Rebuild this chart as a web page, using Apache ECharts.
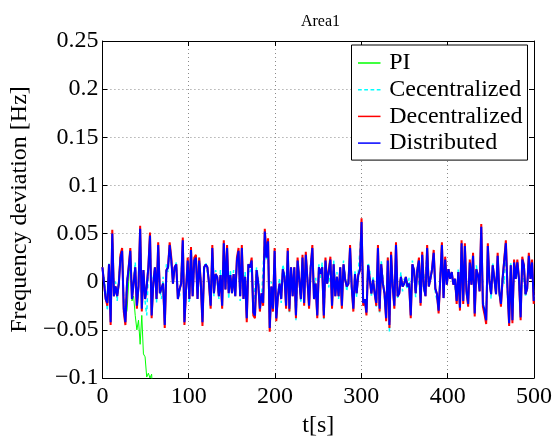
<!DOCTYPE html>
<html><head><meta charset="utf-8">
<script src="https://cdn.jsdelivr.net/npm/echarts@6/dist/echarts.min.js"></script>
<style>html,body{margin:0;padding:0;background:#fff}#c{width:555px;height:443px}</style>
</head><body><div id="c"></div>
<script>
const titleText = 'Area1';
const xName = 't[s]';
const yName = 'Frequency deviation [Hz]';
const seriesNames = ['PI', 'Cecentralized', 'Decentralized', 'Distributed'];
const dt = 1.9; // sampling step of the read-off data, seconds
const xTickLabels = ['0', '100', '200', '300', '400', '500'];
const yTickLabels = ['\u22120.1', '\u22120.05', '0', '0.05', '0.1', '0.15', '0.2', '0.25'];

const piValues = [
0.015,-0.002,-0.018,-0.024,0.018,-0.04,0.045,-0.015,-0.005,-0.015,
-0.002,0.028,0.035,-0.025,-0.035,-0.03,0.0,0.025,-0.02,-0.015,
-0.035,-0.05,-0.04,-0.065,-0.035,-0.075,-0.078,-0.099,-0.095,-0.1,
-0.096,-0.13,-0.16];

const cecentralizedValues = [
0.012,0.005,-0.012,-0.03,0.02,-0.035,0.045,-0.01,0.0,-0.02,
0.005,0.02,0.028,-0.02,-0.038,0.005,0.01,0.025,-0.012,0.003,
0.02,-0.02,0.0,0.05,-0.022,0.008,-0.02,-0.035,0.01,0.045,
-0.03,0.005,0.012,-0.022,0.035,
-0.008,-0.018,0.005,-0.04,0.018,0.01,0.035,0.018,0.005,0.012,
0.02,-0.012,-0.015,0.005,0.04,-0.038,-0.005,0.018,-0.022,0.03,
-0.01,0.018,0.028,-0.012,0.025,0.0,-0.038,0.012,0.02,0.01,
0.003,-0.02,0.03,
-0.015,0.012,0.0,-0.018,0.012,-0.02,0.036,-0.005,0.03,-0.018,
0.012,-0.008,0.012,-0.01,0.02,0.028,-0.02,0.03,-0.012,0.01,
-0.035,0.02,0.01,0.018,-0.028,-0.03,0.015,0.005,-0.025,-0.018,
-0.018,0.048,0.022,
0.038,-0.044,0.0,-0.032,0.028,-0.034,-0.012,0.004,-0.022,0.018,
0.01,-0.02,0.028,-0.032,0.012,-0.01,0.012,-0.04,0.018,0.008,
-0.022,0.022,-0.018,0.025,0.006,-0.02,0.02,0.03,-0.015,0.004,
-0.03,0.018,0.004,
0.02,-0.04,0.018,0.004,-0.006,0.02,-0.02,0.022,-0.01,0.01,
-0.018,0.012,-0.02,0.022,0.006,-0.01,0.004,0.03,-0.01,-0.024,
0.012,-0.016,0.01,0.008,0.056,-0.018,-0.022,-0.028,0.02,0.012,
-0.016,0.006,-0.008,
-0.026,0.03,-0.032,0.022,0.004,-0.016,-0.034,0.026,-0.052,0.024,
0.0,-0.02,0.034,-0.018,-0.008,0.01,-0.01,0.003,0.002,-0.008,
0.004,-0.03,0.022,0.008,-0.016,0.016,0.018,-0.018,0.024,-0.01,
-0.012,0.03,0.0,
0.006,0.01,0.026,-0.012,-0.01,-0.026,0.008,0.034,-0.014,0.02,
0.002,0.01,0.007,0.006,0.002,0.0,-0.016,0.014,-0.024,0.036,
-0.016,0.032,-0.014,-0.02,0.016,0.002,0.024,-0.03,0.017,0.003,
-0.006,0.052,-0.02,-0.026,-0.036,0.032,0.004,-0.018,0.02,-0.002,
-0.01,0.022,-0.014,-0.02,0.008,-0.002,0.036,-0.012,-0.038,0.02,
-0.036,0.016,0.008,0.016,-0.002,-0.032,0.02,0.02,-0.016,-0.003,
0.024,0.007,0.016,-0.016];

const decentralizedValues = [
0.015,-0.002,-0.018,-0.025,0.018,-0.045,0.054,-0.015,-0.005,-0.015,
-0.002,0.028,0.035,-0.031,-0.045,-0.002,0.015,0.035,-0.018,-0.002,
0.015,-0.028,-0.005,0.058,-0.031,0.012,-0.018,-0.005,0.015,0.051,
-0.038,-0.002,0.015,-0.018,0.041,
-0.012,-0.013,-0.002,-0.048,0.012,0.015,0.041,0.025,-0.002,0.015,
0.018,-0.018,-0.008,-0.002,0.046,-0.045,-0.008,0.025,-0.018,0.036,
-0.015,0.025,0.028,-0.018,0.025,-0.002,-0.046,0.015,0.018,0.015,
-0.002,-0.028,0.038,
-0.012,0.008,0.005,-0.015,0.007,-0.028,0.043,-0.008,0.038,-0.012,
0.007,-0.012,0.008,-0.015,0.025,0.035,-0.015,0.038,-0.018,0.005,
-0.042,0.018,0.015,0.025,-0.035,-0.038,0.012,-0.002,-0.031,-0.012,
-0.025,0.055,0.028,
0.045,-0.052,-0.005,-0.031,0.035,-0.041,-0.015,-0.002,-0.018,0.013,
0.005,-0.028,0.035,-0.031,0.015,-0.015,0.015,-0.038,0.025,0.002,
-0.018,0.028,-0.025,0.031,0.002,-0.028,0.015,0.038,-0.018,-0.002,
-0.038,0.015,0.008,
0.015,-0.038,0.025,-0.002,-0.002,0.026,-0.028,0.018,-0.015,0.005,
-0.015,0.015,-0.028,0.018,0.002,-0.005,-0.002,0.038,-0.005,-0.031,
0.008,-0.012,0.007,0.012,0.066,-0.025,-0.018,-0.035,0.017,0.015,
-0.012,0.002,-0.012,
-0.025,0.038,-0.031,0.018,-0.002,-0.012,-0.041,0.025,-0.048,0.031,
-0.005,-0.028,0.041,-0.015,-0.012,0.005,-0.005,-0.002,0.005,-0.005,
-0.002,-0.038,0.018,0.012,-0.012,0.012,0.025,-0.025,0.031,-0.005,
-0.015,0.038,-0.005,
0.003,0.013,0.033,-0.007,-0.013,-0.033,0.003,0.041,-0.017,0.026,
-0.003,0.013,0.003,0.01,-0.003,0.003,-0.023,0.01,-0.03,0.043,
-0.023,0.04,-0.01,-0.026,0.023,-0.003,0.03,-0.036,0.013,0.007,
-0.01,0.06,-0.026,-0.034,-0.044,0.04,0.0,-0.013,0.017,0.003,
-0.013,0.03,-0.01,-0.026,0.003,0.003,0.043,-0.007,-0.046,0.017,
-0.043,0.023,0.003,0.023,0.003,-0.04,0.026,0.017,-0.013,-0.007,
0.03,0.003,0.023,-0.023];

const distributedValues = [
0.015,-0.002,-0.018,-0.022,0.018,-0.042,0.05,-0.015,-0.005,-0.015,
-0.002,0.025,0.032,-0.028,-0.042,-0.002,0.015,0.032,-0.018,-0.002,
0.015,-0.025,-0.005,0.055,-0.028,0.012,-0.018,-0.005,0.015,0.048,
-0.035,-0.002,0.015,-0.018,0.038,
-0.012,-0.013,-0.002,-0.045,0.012,0.015,0.038,0.022,-0.002,0.015,
0.018,-0.018,-0.008,-0.002,0.043,-0.042,-0.008,0.022,-0.018,0.033,
-0.015,0.022,0.025,-0.018,0.022,-0.002,-0.042,0.015,0.018,0.015,
-0.002,-0.025,0.035,
-0.012,0.008,0.005,-0.015,0.007,-0.025,0.04,-0.008,0.035,-0.012,
0.007,-0.012,0.008,-0.015,0.022,0.032,-0.015,0.035,-0.018,0.005,
-0.038,0.018,0.015,0.022,-0.032,-0.035,0.012,-0.002,-0.028,-0.012,
-0.022,0.052,0.025,
0.042,-0.048,-0.005,-0.028,0.032,-0.038,-0.015,-0.002,-0.018,0.013,
0.005,-0.025,0.032,-0.028,0.015,-0.015,0.015,-0.035,0.022,0.002,
-0.018,0.025,-0.022,0.028,0.002,-0.025,0.015,0.035,-0.018,-0.002,
-0.035,0.015,0.008,
0.015,-0.035,0.022,-0.002,-0.002,0.023,-0.025,0.018,-0.015,0.005,
-0.015,0.015,-0.025,0.018,0.002,-0.005,-0.002,0.035,-0.005,-0.028,
0.008,-0.012,0.007,0.012,0.062,-0.022,-0.018,-0.032,0.017,0.015,
-0.012,0.002,-0.012,
-0.022,0.035,-0.028,0.018,-0.002,-0.012,-0.038,0.022,-0.045,0.028,
-0.005,-0.025,0.038,-0.015,-0.012,0.005,-0.005,-0.002,0.005,-0.005,
-0.002,-0.035,0.018,0.012,-0.012,0.012,0.022,-0.022,0.028,-0.005,
-0.015,0.035,-0.005,
0.003,0.013,0.03,-0.007,-0.013,-0.03,0.003,0.038,-0.017,0.023,
-0.003,0.013,0.003,0.01,-0.003,0.003,-0.02,0.01,-0.027,0.04,
-0.02,0.037,-0.01,-0.023,0.02,-0.003,0.027,-0.033,0.013,0.007,
-0.01,0.057,-0.023,-0.03,-0.04,0.037,0.0,-0.013,0.017,0.003,
-0.013,0.027,-0.01,-0.023,0.003,0.003,0.04,-0.007,-0.043,0.017,
-0.04,0.02,0.003,0.02,0.003,-0.037,0.023,0.017,-0.013,-0.007,
0.027,0.003,0.02,-0.02];

const FONT = '"Liberation Serif", "Times New Roman", serif';
function toPairs(arr) { return arr.map((v, i) => [Math.round(i * dt * 100) / 100, v]); }

const SOLID_ICON = 'path://M0,0H30V2H0Z';
const DASH_ICON = 'path://M0,0H5V2H0Z M8.3,0H13.3V2H8.3Z M16.7,0H21.7V2H16.7Z M25,0H30V2H25Z';

const chart = echarts.init(document.getElementById('c'), null, { renderer: 'canvas' });

const baseX = {
  type: 'value', min: 0, max: 500, interval: 100,
  axisLine: { show: true, onZero: false, lineStyle: { color: '#000', width: 1 } },
  axisTick: { show: true, inside: true, length: 5, lineStyle: { color: '#000' } },
};
const baseY = {
  type: 'value', min: -0.1, max: 0.25, interval: 0.05,
  axisLine: { show: true, onZero: false, lineStyle: { color: '#000', width: 1 } },
  axisTick: { show: true, inside: true, length: 5, lineStyle: { color: '#000' } },
};
const gridLine = { show: true, lineStyle: { color: '#8a8a8a', width: 1, type: [1, 3] } };

const option = {
  animation: false,
  backgroundColor: '#fff',
  title: {
    text: titleText, left: 315.5, top: 9, textAlign: 'center',
    textStyle: { fontFamily: FONT, fontSize: 16, fontWeight: 'normal', color: '#000' }
  },
  grid: { left: 96.5, right: 20.5, top: 41, bottom: 53, containLabel: false },
  legend: {
    data: [
      { name: seriesNames[0], icon: SOLID_ICON },
      { name: seriesNames[1], icon: DASH_ICON },
      { name: seriesNames[2], icon: SOLID_ICON },
      { name: seriesNames[3], icon: SOLID_ICON }
    ],
    orient: 'vertical', left: 351.5, top: 45,
    padding: [6, 5, 5, 6.5], itemGap: 2.7, itemWidth: 30, itemHeight: 1.5,
    backgroundColor: '#fff', borderColor: '#000', borderWidth: 1, borderRadius: 0,
    textStyle: { fontFamily: FONT, fontSize: 24, lineHeight: 24, color: '#000' }
  },
  xAxis: [
    Object.assign({}, baseX, {
      position: 'bottom',
      axisLabel: { fontFamily: FONT, fontSize: 24, color: '#000', margin: 7,
        formatter: v => xTickLabels[Math.round(v / 100)] },
      splitLine: gridLine,
      name: xName, nameLocation: 'middle', nameGap: 36,
      nameTextStyle: { fontFamily: FONT, fontSize: 24, color: '#000' }
    }),
    Object.assign({}, baseX, { position: 'top', axisLabel: { show: false }, splitLine: { show: false } })
  ],
  yAxis: [
    Object.assign({}, baseY, {
      position: 'left',
      axisLabel: { fontFamily: FONT, fontSize: 24, color: '#000', margin: 4,
        formatter: v => yTickLabels[Math.round((v + 0.1) / 0.05)] },
      splitLine: gridLine,
      name: yName, nameLocation: 'middle', nameGap: 64, nameRotate: 90,
      nameTextStyle: { fontFamily: FONT, fontSize: 24, color: '#000' }
    }),
    Object.assign({}, baseY, { position: 'right', axisLabel: { show: false }, splitLine: { show: false } })
  ],
  series: [
    { name: seriesNames[0], type: 'line', data: toPairs(piValues), symbol: 'none', clip: true,
      lineStyle: { color: '#00ff00', width: 1 }, itemStyle: { color: '#00ff00' } },
    { name: seriesNames[1], type: 'line', data: toPairs(cecentralizedValues), symbol: 'none', clip: true,
      lineStyle: { color: '#00ffff', width: 1.5, type: [4, 3] }, itemStyle: { color: '#00ffff' } },
    { name: seriesNames[2], type: 'line', data: toPairs(decentralizedValues), symbol: 'none', clip: true,
      lineStyle: { color: '#ff0000', width: 2 }, itemStyle: { color: '#ff0000' } },
    { name: seriesNames[3], type: 'line', data: toPairs(distributedValues), symbol: 'none', clip: true,
      lineStyle: { color: '#0000ff', width: 2 }, itemStyle: { color: '#0000ff' } }
  ]
};
chart.setOption(option);
</script></body></html>
